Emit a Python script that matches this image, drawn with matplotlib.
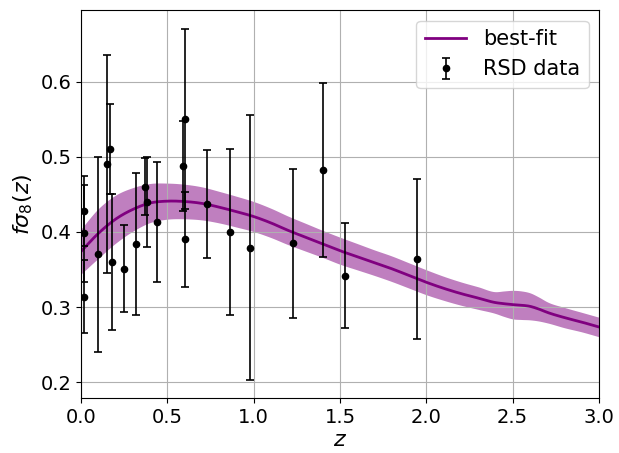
import matplotlib
matplotlib.use("Agg")
import matplotlib.pyplot as plt
import numpy as np

# RSD data
z_data = [0.02, 0.02, 0.02, 0.10, 0.15, 0.17, 0.18, 0.25, 0.32, 0.37, 0.38,
          0.44, 0.59, 0.60, 0.60, 0.73, 0.86, 0.978, 1.23, 1.40, 1.526, 1.944]
fs8_data = [0.428, 0.398, 0.314, 0.370, 0.490, 0.510, 0.360, 0.351, 0.384, 0.4602, 0.440,
            0.413, 0.488, 0.550, 0.390, 0.437, 0.400, 0.379, 0.385, 0.482, 0.342, 0.364]
fs8_err = [0.0465, 0.065, 0.048, 0.130, 0.145, 0.060, 0.090, 0.058, 0.095, 0.0378, 0.060,
           0.080, 0.060, 0.120, 0.063, 0.072, 0.110, 0.176, 0.099, 0.116, 0.070, 0.106]

# best-fit curve and 1-sigma half width
z_fit = [0.0, 0.1, 0.2, 0.3, 0.4, 0.5, 0.6, 0.7, 0.8, 0.9, 1.0, 1.1, 1.2, 1.3, 1.4,
         1.5, 1.6, 1.7, 1.8, 1.9, 2.0, 2.1, 2.2, 2.3, 2.4, 2.45, 2.5, 2.55, 2.6, 2.65,
         2.7, 2.8, 2.9, 3.0]
fs8_fit = [0.374, 0.398, 0.417, 0.430, 0.4385, 0.441, 0.4405, 0.438, 0.433, 0.427, 0.4205,
           0.412, 0.402, 0.393, 0.384, 0.375, 0.367, 0.359, 0.351, 0.342, 0.333, 0.325,
           0.318, 0.312, 0.306, 0.3045, 0.3033, 0.3025, 0.3010, 0.2975, 0.293, 0.286, 0.280, 0.2735]
fs8_sig = [0.030, 0.033, 0.032, 0.029, 0.026, 0.024, 0.023, 0.022, 0.021, 0.0205, 0.020,
           0.0195, 0.019, 0.0185, 0.018, 0.018, 0.0175, 0.017, 0.017, 0.0168, 0.0166, 0.016,
           0.0155, 0.015, 0.0145, 0.017, 0.019, 0.019, 0.018, 0.016, 0.014, 0.0135, 0.013, 0.013]


def smooth(x, y, xn):
    # cubic Hermite curve through the read points
    x = np.asarray(x, float)
    y = np.asarray(y, float)
    m = np.gradient(y, x)
    idx = np.clip(np.searchsorted(x, xn) - 1, 0, len(x) - 2)
    h = x[idx + 1] - x[idx]
    t = (xn - x[idx]) / h
    h00 = 2*t**3 - 3*t**2 + 1
    h10 = t**3 - 2*t**2 + t
    h01 = -2*t**3 + 3*t**2
    h11 = t**3 - t**2
    return h00*y[idx] + h10*h*m[idx] + h01*y[idx+1] + h11*h*m[idx+1]


zz = np.linspace(0, 3, 601)
yy = smooth(z_fit, fs8_fit, zz)
ss = smooth(z_fit, fs8_sig, zz)

fig = plt.figure(figsize=(6.19, 4.53), dpi=100)
ax = fig.add_axes([0.1309, 0.1214, 0.8368, 0.8559])

ax.fill_between(zz, yy - ss, yy + ss, color='purple', alpha=0.5, lw=0)
ax.plot(zz, yy, color='purple', lw=2, label='best-fit')
ax.errorbar(z_data, fs8_data, yerr=fs8_err, fmt='o', color='black', ms=4.5,
            capsize=3, elinewidth=1.2, capthick=1.2, label='RSD data')

ax.set_xlim(0, 3)
ax.set_ylim(0.179, 0.695)
ax.set_xticks([0.0, 0.5, 1.0, 1.5, 2.0, 2.5, 3.0])
ax.set_yticks([0.2, 0.3, 0.4, 0.5, 0.6])
ax.tick_params(labelsize=14)
ax.grid(True)
ax.set_xlabel(r'$z$', fontsize=16, labelpad=2)
ax.set_ylabel(r'$f\sigma_8(z)$', fontsize=16)
ax.legend(loc='upper right', fontsize=15)

fig.savefig('out.png', dpi=100)
